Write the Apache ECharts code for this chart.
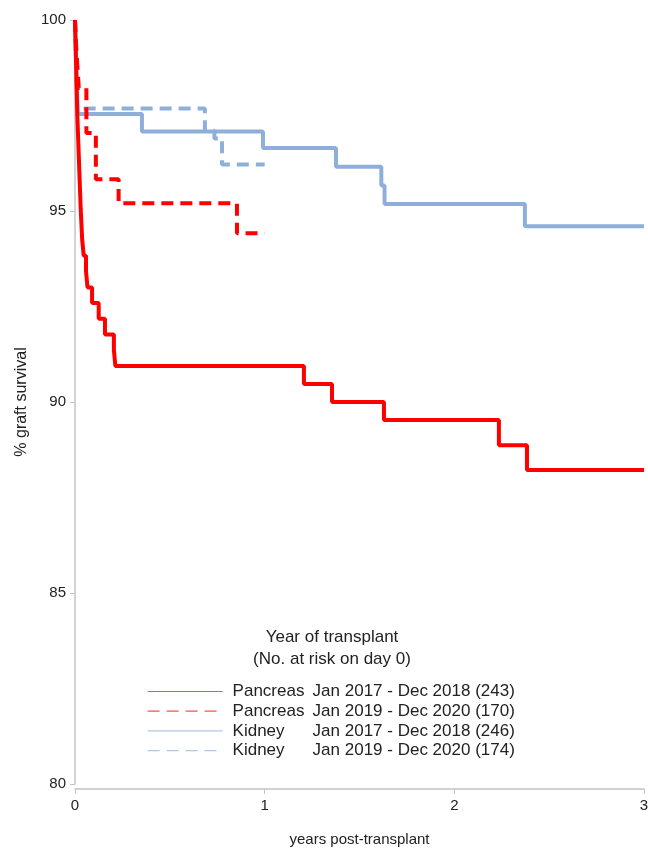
<!DOCTYPE html>
<html>
<head>
<meta charset="utf-8">
<script src="https://cdn.jsdelivr.net/npm/echarts@6/dist/echarts.min.js"></script>
<style>
html,body{margin:0;padding:0;background:#fff;}
#chart{width:648px;height:848px;}
</style>
</head>
<body>
<div id="chart"></div>
<script>
// ---- data ----
const organs = ['Pancreas', 'Pancreas', 'Kidney', 'Kidney'];
const periods = ['Jan 2017 - Dec 2018', 'Jan 2019 - Dec 2020', 'Jan 2017 - Dec 2018', 'Jan 2019 - Dec 2020'];
const atRisk = [243, 170, 246, 174];

// Pancreas Jan 2017 - Dec 2018
const pan1Times = [0, 0.002, 0.004, 0.006, 0.008, 0.010, 0.012, 0.015, 0.018, 0.021, 0.024, 0.027, 0.030, 0.034, 0.038, 0.046, 0.058, 0.066, 0.090, 0.125, 0.158, 0.205, 0.213, 1.207, 1.355, 1.629, 2.235, 2.383, 3.0];
const pan1Surv  = [100, 99.59, 99.18, 98.77, 98.35, 97.94, 97.53, 97.12, 96.71, 96.30, 95.88, 95.47, 95.06, 94.65, 94.24, 93.83, 93.42, 93.00, 92.59, 92.18, 91.77, 91.36, 90.94, 90.47, 90.00, 89.53, 88.87, 88.22, 88.22];

// Pancreas Jan 2019 - Dec 2020
const pan2Times = [0, 0.005, 0.012, 0.020, 0.060, 0.110, 0.230, 0.854, 1.0];
const pan2Surv  = [100, 99.41, 98.82, 98.22, 97.04, 95.83, 95.20, 94.42, 94.42];

// Kidney Jan 2017 - Dec 2018
const kid1Times = [0, 0.002, 0.004, 0.006, 0.009, 0.012, 0.015, 0.353, 0.991, 1.376, 1.615, 1.632, 2.372, 3.0];
const kid1Surv  = [100, 99.59, 99.19, 98.78, 98.37, 97.97, 97.54, 97.08, 96.65, 96.16, 95.67, 95.18, 94.60, 94.60];

// Kidney Jan 2019 - Dec 2020
const kid2Times = [0, 0.003, 0.006, 0.009, 0.012, 0.685, 0.735, 0.775, 1.0];
const kid2Surv  = [100, 99.43, 98.85, 98.28, 97.68, 97.10, 96.90, 96.22, 96.22];

const xTicks = [0, 1, 2, 3];
const yTicks = [80, 85, 90, 95, 100];

// ---- styling ----
const RED = '#ff0000';
const BLUE = '#8fafdb';
const FONT = '"Liberation Sans", Arial, sans-serif';

function pairs(t, s) { return t.map((v, i) => [v, s[i]]); }
const names = organs.map((o, i) => o + '  ' + periods[i] + ' (' + atRisk[i] + ')');

const seriesDefs = [
  { data: pairs(pan1Times, pan1Surv), color: RED, type: 'solid' },
  { data: pairs(pan2Times, pan2Surv), color: RED, type: [12, 7] },
  { data: pairs(kid1Times, kid1Surv), color: BLUE, type: 'solid' },
  { data: pairs(kid2Times, kid2Surv), color: BLUE, type: [12, 7] }
];

const chart = echarts.init(document.getElementById('chart'), null, { renderer: 'canvas' });

const option = {
  backgroundColor: '#ffffff',
  animation: false,
  title: {
    text: 'Year of transplant\n(No. at risk on day 0)',
    left: 327, top: 621, textAlign: 'center',
    textStyle: { fontFamily: FONT, fontSize: 17, fontWeight: 'normal', color: '#222', lineHeight: 22 }
  },
  legend: {
    orient: 'vertical', left: 142, top: 678,
    itemWidth: 75, itemHeight: 16, itemGap: 2.7,
    lineStyle: { width: 1.2, opacity: 0.7 },
    itemStyle: { opacity: 0 },
    data: names,
    formatter: function (name) {
      const i = names.indexOf(name);
      return '{a|' + organs[i] + '}{b|' + periods[i] + ' (' + atRisk[i] + ')}';
    },
    textStyle: {
      fontFamily: FONT, fontSize: 17, color: '#222', lineHeight: 16,
      rich: {
        a: { width: 80, fontFamily: FONT, fontSize: 17, lineHeight: 16, color: '#222', padding: [0, 0, 0, 5] },
        b: { fontFamily: FONT, fontSize: 17, lineHeight: 16, color: '#222' }
      }
    }
  },
  grid: { left: 75, right: 4, top: 20, bottom: 64, containLabel: false, outerBoundsMode: 'none' },
  xAxis: {
    type: 'value', min: xTicks[0], max: xTicks[xTicks.length - 1], interval: 1, offset: 5,
    name: 'years post-transplant', nameLocation: 'middle', nameGap: 43,
    nameTextStyle: { fontFamily: FONT, fontSize: 15, color: '#222' },
    axisLine: { show: true, lineStyle: { color: '#c4c4c4', width: 1.5 } },
    axisTick: { show: true, length: 5, lineStyle: { color: '#c4c4c4' } },
    axisLabel: { fontFamily: FONT, fontSize: 15, color: '#222', margin: 9 },
    splitLine: { show: false }
  },
  yAxis: {
    type: 'value', min: yTicks[0], max: yTicks[yTicks.length - 1], interval: 5, offset: 2,
    name: '% graft survival', nameLocation: 'middle', nameRotate: 90, nameGap: 42,
    nameTextStyle: { fontFamily: FONT, fontSize: 16, color: '#222' },
    axisLine: { show: true, lineStyle: { color: '#c4c4c4', width: 1.5 } },
    axisTick: { show: true, length: 5, lineStyle: { color: '#c4c4c4' } },
    axisLabel: { fontFamily: FONT, fontSize: 15, color: '#222', margin: 7 },
    splitLine: { show: false }
  },
  series: seriesDefs.map((d, i) => ({
    name: names[i],
    type: 'line',
    step: 'end',
    symbol: 'none',
    data: d.data,
    color: d.color,
    lineStyle: { color: d.color, width: 4, type: d.type },
    z: 10 - i
  }))
};
chart.setOption(option);
</script>
</body>
</html>
